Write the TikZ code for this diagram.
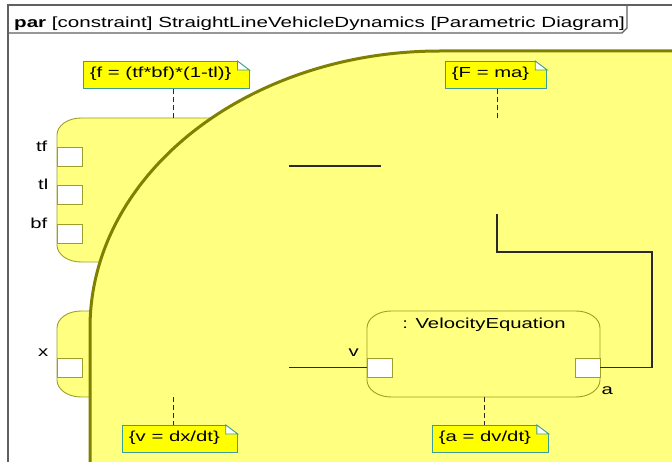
\documentclass[tikz,border=0pt]{standalone}
\usepackage{fontspec}
\setmainfont{Liberation Sans}[FakeStretch=1.40]
\usetikzlibrary{positioning}
\definecolor{blkfill}{HTML}{FFFF80}
\definecolor{blkline}{HTML}{9E9E28}
\definecolor{bigline}{HTML}{808000}
\definecolor{notefill}{HTML}{FFFF00}
\definecolor{noteline}{HTML}{3A9E96}
\definecolor{frm}{HTML}{606060}
\definecolor{wirec}{HTML}{2A2A2A}
\tikzset{
  frameline/.style={frm,line width=1.3pt},
  blk/.style={fill=blkfill,draw=blkline,line width=0.9pt},
  big/.style={fill=blkfill,draw=bigline,line width=3pt},
  port/.style={draw=blkline,fill=white,line width=0.9pt,minimum width=25pt,minimum height=19pt,inner sep=0pt},
  plabel/.style={inner sep=0pt,text height=.73em,text depth=.21em},
  note/.style={fill=notefill,draw=noteline,line width=0.9pt,anchor=north west,minimum height=27pt,
    inner xsep=6.5pt,inner ysep=0pt,text height=.73em,text depth=.21em,execute at end node={\hspace*{11pt}}},
  wire/.style={wirec,line width=1.1pt},
  anchorline/.style={wirec,line width=1pt,dash pattern=on 5pt off 3pt},
}
% constraint block outline with flat oval corners
\newcommand{\cblock}[4]{(#1+24,#2) -- (#3-24,#2) arc[start angle=270,end angle=360,x radius=24,y radius=17]
  -- (#3,#4-17) arc[start angle=0,end angle=90,x radius=24,y radius=17]
  -- (#1+24,#4) arc[start angle=90,end angle=180,x radius=24,y radius=17]
  -- (#1,#2+17) arc[start angle=180,end angle=270,x radius=24,y radius=17] -- cycle}
% folded corner of a note
\newcommand{\dogear}[2]{%
  \fill[#2] ([xshift=-12pt,yshift=1pt]#1.north east) rectangle ([xshift=1pt,yshift=-9pt]#1.north east);
  \draw[noteline,line width=0.9pt,fill=white] ([xshift=-12pt]#1.north east) -- ([yshift=-9pt]#1.north east)
    -- ([xshift=-12pt,yshift=-9pt]#1.north east) -- cycle;}

\begin{document}
\begin{tikzpicture}[x=1pt,y=-1pt,font=\fontsize{14.5pt}{17pt}\selectfont]
  \useasboundingbox (0,0) rectangle (672,462);
  \clip (0,0) rectangle (672,462);
  % diagram frame
  \draw[frameline] (8,470) -- (8,5) -- (680,5);
  \draw[frameline] (8,33) -- (622,33) -- (627,28) -- (627,5);
  \node[anchor=base west,inner sep=0pt,font=\fontsize{14.7pt}{17pt}\selectfont] (head) at (14,27.5)
    {\textbf{par} [constraint] StraightLineVehicleDynamics [Parametric Diagram]};

  % force block (left, top)
  \draw[blk] \cblock{57}{118}{289}{262};
  \node[port] (tfp) at (69.5,156.5) {};
  \node[port] (tlp) at (69.5,195) {};
  \node[port] (bfp) at (69.5,233.5) {};
  \node[plabel,left=9pt of tfp.north west,yshift=-2pt] (tfl) {tf};
  \node[plabel,left=8pt of tlp.north west,yshift=-2pt] (tll) {tl};
  \node[plabel,left=9pt of bfp.north west,yshift=-2pt] (bfl) {bf};
  \node[note] (fnote) at (83,61) {\{f = (tf*bf)*(1-tl)\}};
  \dogear{fnote}{white}
  \coordinate (ftop) at (173,118);
  \draw[anchorline] (fnote.south -| ftop) -- (ftop);

  % position block (left, bottom)
  \draw[blk] \cblock{57}{311}{289}{397};
  \node[port] (xp) at (69.5,367.5) {};
  \node[plabel,left=8pt of xp.north west,yshift=4pt] (xl) {x};

  % large constraint property
  \filldraw[big] (700,51) -- (440,51) arc[start angle=270,end angle=180,x radius=350,y radius=277]
    -- (90,480) -- (700,480) -- cycle;

  % velocity equation
  \draw[blk] \cblock{367}{311}{600}{397};
  \node[anchor=base,inner sep=0pt] (vtitle) at (484,328) {: VelocityEquation};
  \node[port] (vp) at (380,367.5) {};
  \node[port] (ap) at (587.5,367.5) {};
  \node[plabel,left=8pt of vp.north west,yshift=4pt] (vl) {v};
  \node[plabel,below right=10pt and 1pt of ap.south east] (al) {a};

  % binding connectors
  \coordinate (fout) at (289,166);
  \coordinate (Fin) at (381,166);
  \coordinate (Fbot) at (497,214);
  \coordinate (aturn) at (652,252);
  \coordinate (xout) at (289,367.5);
  \draw[wire] (fout) -- (Fin);
  \draw[wire] (Fbot) |- (aturn) |- (ap.east);
  \draw[wire] (xout) -- (vp.west);

  % notes
  \node[note] (Fnote) at (445,61) {\{F = ma\}};
  \dogear{Fnote}{blkfill}
  \coordinate (Ftop) at (497,118);
  \draw[anchorline] (Fnote.south -| Ftop) -- (Ftop);
  \node[note] (vnote) at (122,425) {\{v = dx/dt\}};
  \dogear{vnote}{blkfill}
  \coordinate (xbot) at (173,397);
  \draw[anchorline] (xbot) -- (vnote.north -| xbot);
  \node[note] (anote) at (432,425) {\{a = dv/dt\}};
  \dogear{anote}{blkfill}
  \coordinate (vbot) at (484,397);
  \draw[anchorline] (vbot) -- (anote.north -| vbot);
\end{tikzpicture}
\end{document}
